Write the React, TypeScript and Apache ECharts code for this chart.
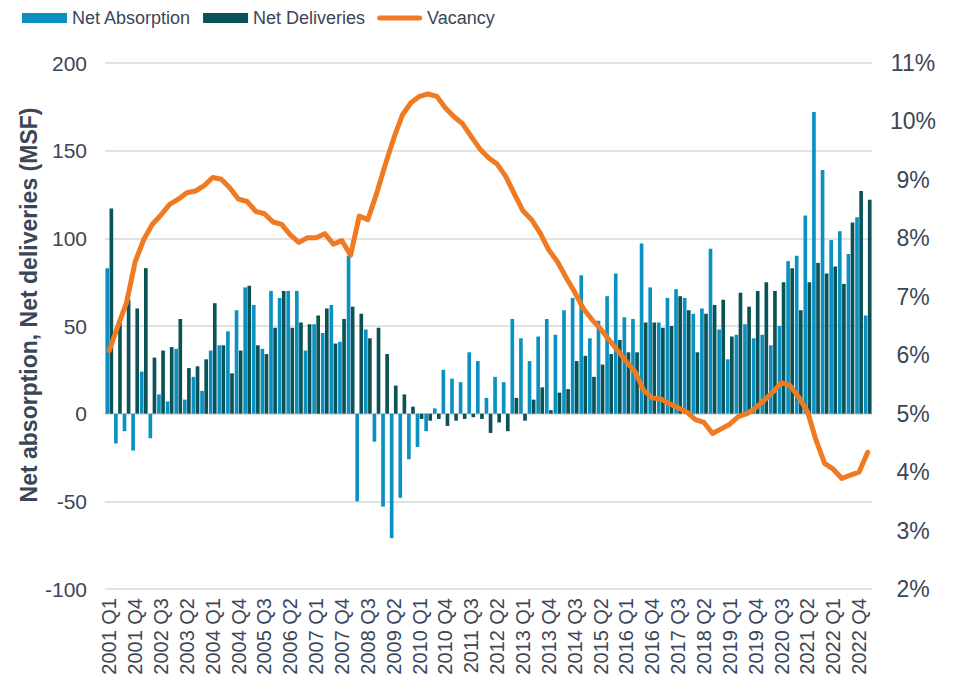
import React, { useEffect, useRef } from "react";
import * as echarts from "echarts";

const years = [2001, 2002, 2003, 2004, 2005, 2006, 2007, 2008, 2009, 2010, 2011, 2012, 2013, 2014, 2015, 2016, 2017, 2018, 2019, 2020, 2021, 2022];
const quarters = ["Q1", "Q2", "Q3", "Q4"];
const categories: string[] = [];
years.forEach((y) => quarters.forEach((q) => categories.push(`${y} ${q}`)));
categories.push("2023 Q1");

const netAbsorption = [
  83, -17, -10, -21, 24, -14, 11, 7, 37, 8, 21, 13, 36, 39, 47, 59, 72, 62, 37, 70,
  66, 70, 70, 36, 51, 46, 62, 41, 90, -50, 48, -16, -53, -71, -48, -26, -19, -10, 3, 25,
  20, 18, 35, 30, 9, 21, 18, 54, 43, 30, 44, 54, 45, 59, 66, 79, 43, 53, 67, 80,
  55, 54, 97, 72, 52, 66, 71, 66, 57, 60, 94, 48, 31, 45, 51, 43, 45, 39, 50, 87,
  90, 113, 172, 139, 99, 104, 91, 112, 56,
];

const netDeliveries = [
  117, 52, 65, 60, 83, 32, 36, 38, 54, 26, 27, 31, 63, 39, 23, 36, 73, 39, 34, 49,
  70, 49, 52, 51, 56, 60, 40, 54, 61, 57, 43, 49, 34, 16, 11, 4, -3, -4, -3, -7,
  -4, -3, -2, -3, -11, -5, -10, 9, -4, 8, 15, 2, 12, 14, 30, 33, 21, 28, 34, 42,
  35, 35, 52, 52, 49, 50, 67, 59, 35, 57, 62, 65, 44, 69, 61, 70, 75, 70, 75, 83,
  59, 75, 86, 80, 84, 74, 109, 127, 122,
];

const vacancy = [
  6.08, 6.5, 6.9, 7.6, 7.98, 8.24, 8.4, 8.58, 8.67, 8.78, 8.81, 8.9, 9.04, 9.01, 8.86, 8.67, 8.63, 8.46, 8.42, 8.28,
  8.24, 8.06, 7.93, 8.01, 8.01, 8.08, 7.9, 7.96, 7.71, 8.38, 8.32, 8.76, 9.25, 9.71, 10.11, 10.32, 10.43, 10.47, 10.43, 10.23,
  10.08, 9.96, 9.74, 9.53, 9.38, 9.27, 9.06, 8.76, 8.47, 8.32, 8.09, 7.8, 7.6, 7.33, 7.08, 6.8, 6.61, 6.45, 6.26, 6.08,
  5.89, 5.72, 5.4, 5.27, 5.25, 5.17, 5.1, 5.03, 4.9, 4.85, 4.66, 4.74, 4.82, 4.95, 5.0, 5.1, 5.23, 5.37, 5.53, 5.48,
  5.28, 5.04, 4.55, 4.15, 4.05, 3.89, 3.95, 4.0, 4.34,
];

const leftTicks = { min: -100, max: 200, interval: 50 };
const rightTicks = { min: 2, max: 11, interval: 1 };

const FONT = "'Liberation Sans', Arial, sans-serif";
const TEXT = "#3b4656";
const C_ABS = "#0a91c2";
const C_DEL = "#0b5257";
const C_VAC = "#ef7a22";

const LINE_ICON = "path://M2.5,0 L42.5,0 A2.5,2.5 0 0 1 42.5,5 L2.5,5 A2.5,2.5 0 0 1 2.5,0 Z";

export default function App() {
  const ref = useRef<HTMLDivElement>(null);

  useEffect(() => {
    if (!ref.current) return;
    const chart = echarts.init(ref.current, null, { renderer: "svg" });
    chart.setOption({
      animation: false,
      textStyle: { fontFamily: FONT, color: TEXT },
      legend: {
        left: 17,
        top: 4,
        itemWidth: 45,
        itemHeight: 10,
        itemGap: 12,
        textStyle: { fontFamily: FONT, fontSize: 18, color: TEXT },
        data: [
          { name: "Net Absorption", icon: "rect" },
          { name: "Net Deliveries", icon: "rect" },
          { name: "Vacancy", icon: LINE_ICON, itemStyle: { color: C_VAC } },
        ],
      },
      grid: { left: 105, right: 89, top: 63, bottom: 97, containLabel: false },
      xAxis: {
        type: "category",
        data: categories,
        axisLine: { show: false, onZero: false },
        axisTick: { show: false },
        axisLabel: {
          interval: 2,
          rotate: 90,
          fontSize: 20,
          color: TEXT,
          fontFamily: FONT,
          margin: 9,
        },
      },
      yAxis: [
        {
          type: "value",
          min: leftTicks.min,
          max: leftTicks.max,
          interval: leftTicks.interval,
          axisLine: { show: false },
          axisTick: { show: false },
          splitLine: { lineStyle: { color: "#d9d9d9", width: 1.5 } },
          axisLabel: { fontSize: 21, color: TEXT, fontFamily: FONT, margin: 18 },
        },
        {
          type: "value",
          min: rightTicks.min,
          max: rightTicks.max,
          interval: rightTicks.interval,
          axisLine: { show: false },
          axisTick: { show: false },
          splitLine: { show: false },
          axisLabel: {
            fontSize: 23,
            color: TEXT,
            fontFamily: FONT,
            margin: 41,
            align: "center",
            formatter: "{value}%",
          },
        },
      ],
      graphic: [
        {
          type: "text",
          x: 29,
          y: 305,
          rotation: Math.PI / 2,
          style: {
            text: "Net absorption, Net deliveries (MSF)",
            fontFamily: FONT,
            fontSize: 23,
            fontWeight: "bold",
            fill: TEXT,
            align: "center",
            verticalAlign: "middle",
          },
        },
      ],
      series: [
        {
          name: "Net Absorption",
          type: "bar",
          data: netAbsorption,
          itemStyle: { color: C_ABS },
          barGap: "12%",
          barCategoryGap: "10%",
        },
        {
          name: "Net Deliveries",
          type: "bar",
          data: netDeliveries,
          itemStyle: { color: C_DEL },
          barGap: "12%",
          barCategoryGap: "10%",
        },
        {
          name: "Vacancy",
          type: "line",
          yAxisIndex: 1,
          data: vacancy,
          symbol: "none",
          lineStyle: { color: C_VAC, width: 5, cap: "round", join: "round" },
          itemStyle: { color: C_VAC },
          z: 5,
        },
      ],
    });
    return () => chart.dispose();
  }, []);

  return (
    <div
      ref={ref}
      style={{ position: "fixed", left: 0, top: 0, width: 961, height: 686, background: "#fff" }}
    />
  );
}
